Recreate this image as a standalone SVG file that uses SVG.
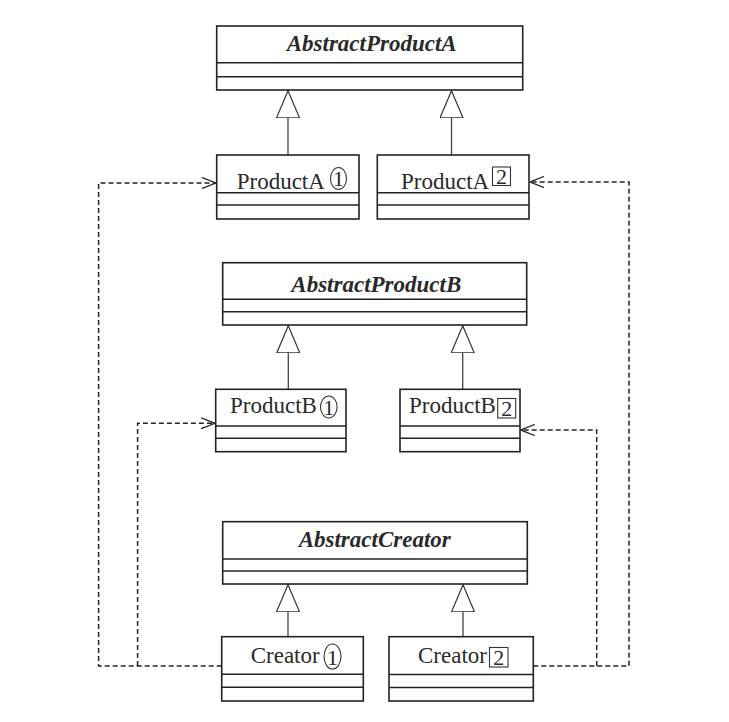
<svg xmlns="http://www.w3.org/2000/svg" width="729" height="722" viewBox="0 0 729 722">
  <style>
    .box { fill: #ffffff; stroke: #222222; stroke-width: 1.6; }
    .sep { stroke: #222222; stroke-width: 1.6; fill: none; }
    .title { font-family: "Liberation Serif", "Times New Roman", serif; font-size: 23px; font-weight: bold; font-style: italic; fill: #2a2a2a; text-anchor: middle; }
    .name { font-family: "Liberation Serif", "Times New Roman", serif; font-size: 23px; fill: #2a2a2a; }
    .num { font-family: "Liberation Serif", "Times New Roman", serif; font-size: 22px; fill: #2a2a2a; text-anchor: middle; }
    .mark { fill: none; stroke: #333333; stroke-width: 1.1; }
    .stem { fill: none; stroke: #444444; stroke-width: 1.3; marker-end: url(#gen); }
    .dep { fill: none; stroke: #222222; stroke-width: 1.5; stroke-dasharray: 5 3; }
    .deparrow { marker-end: url(#open); }
  </style>
  <defs>
    <marker id="gen" viewBox="0 0 28 24" refX="27.5" refY="12" markerWidth="28" markerHeight="24" markerUnits="userSpaceOnUse" orient="auto">
      <path d="M0.5,0.5 L27.5,12 L0.5,23.5 Z" fill="#ffffff" stroke="#333333" stroke-width="1.2"/>
    </marker>
    <marker id="open" viewBox="0 0 15 12" refX="14.5" refY="6" markerWidth="15" markerHeight="12" markerUnits="userSpaceOnUse" orient="auto">
      <path d="M0.5,0.5 L14.5,6 L0.5,11.5" fill="none" stroke="#222222" stroke-width="1.3" stroke-dasharray="none"/>
    </marker>
  </defs>
  <rect width="729" height="722" fill="#ffffff"/>

  <g id="connectors">
    <path class="stem" d="M288 155 V90.8"/>
    <path class="stem" d="M451.5 155 V90.8"/>
    <path class="stem" d="M288.3 389.3 V325.8"/>
    <path class="stem" d="M462.7 389.3 V325.8"/>
    <path class="stem" d="M288 636.7 V584.8"/>
    <path class="stem" d="M463 636.7 V584.8"/>
    <path class="dep deparrow" d="M221.7 666 H98.6 V183 H216"/>
    <path class="dep deparrow" d="M137.6 666 V423.3 H215"/>
    <path class="dep deparrow" d="M533.3 666 H629 V182 H530"/>
    <path class="dep deparrow" d="M596.7 666 V430 H520.8"/>
  </g>

  <g id="AbstractProductA">
    <rect class="box" x="216.7" y="26" width="306" height="64"/>
    <path class="sep" d="M216.7 62.7 H522.7 M216.7 76.7 H522.7"/>
    <text class="title" x="371.7" y="51">AbstractProductA</text>
  </g>

  <g id="ProductA1">
    <rect class="box" x="216.7" y="155" width="142.3" height="64"/>
    <path class="sep" d="M216.7 192.7 H359 M216.7 205 H359"/>
    <text class="name" x="236.7" y="189">ProductA</text>
    <ellipse class="mark" cx="338.5" cy="178.5" rx="8" ry="11"/>
    <text class="num" x="338.5" y="186">1</text>
  </g>

  <g id="ProductA2">
    <rect class="box" x="377.3" y="155" width="151.7" height="64"/>
    <path class="sep" d="M377.3 192.7 H529 M377.3 205 H529"/>
    <text class="name" x="401" y="189">ProductA</text>
    <rect class="mark" x="492.5" y="167" width="18" height="18.5"/>
    <text class="num" x="501.5" y="184">2</text>
  </g>

  <g id="AbstractProductB">
    <rect class="box" x="222.7" y="262.7" width="304" height="62.3"/>
    <path class="sep" d="M222.7 299.3 H526.7 M222.7 311.7 H526.7"/>
    <text class="title" x="376.3" y="292">AbstractProductB</text>
  </g>

  <g id="ProductB1">
    <rect class="box" x="215.7" y="389.3" width="130.3" height="62.4"/>
    <path class="sep" d="M215.7 426 H346 M215.7 438.3 H346"/>
    <text class="name" x="230" y="413.3">ProductB</text>
    <ellipse class="mark" cx="328.8" cy="407" rx="8.3" ry="11"/>
    <text class="num" x="328.8" y="414.5">1</text>
  </g>

  <g id="ProductB2">
    <rect class="box" x="400" y="389.3" width="120" height="62.4"/>
    <path class="sep" d="M400 426 H520 M400 438.3 H520"/>
    <text class="name" x="409" y="413.3">ProductB</text>
    <rect class="mark" x="497.7" y="398.5" width="18" height="19.5"/>
    <text class="num" x="506.7" y="415.5">2</text>
  </g>

  <g id="AbstractCreator">
    <rect class="box" x="222.7" y="521.7" width="304.6" height="62.3"/>
    <path class="sep" d="M222.7 559 H527.3 M222.7 571 H527.3"/>
    <text class="title" x="374.7" y="547">AbstractCreator</text>
  </g>

  <g id="Creator1">
    <rect class="box" x="221.7" y="636.7" width="141.6" height="64.3"/>
    <path class="sep" d="M221.7 674.3 H363.3 M221.7 687.3 H363.3"/>
    <text class="name" x="250.7" y="663.3">Creator</text>
    <ellipse class="mark" cx="332.5" cy="656.5" rx="8.5" ry="12.5"/>
    <text class="num" x="332.5" y="664.5">1</text>
  </g>

  <g id="Creator2">
    <rect class="box" x="389" y="636.7" width="144.3" height="64.3"/>
    <path class="sep" d="M389 674.5 H533.3 M389 687.5 H533.3"/>
    <text class="name" x="418" y="663.3">Creator</text>
    <rect class="mark" x="489.5" y="647.5" width="18.5" height="19.5"/>
    <text class="num" x="498.7" y="664.5">2</text>
  </g>
</svg>
